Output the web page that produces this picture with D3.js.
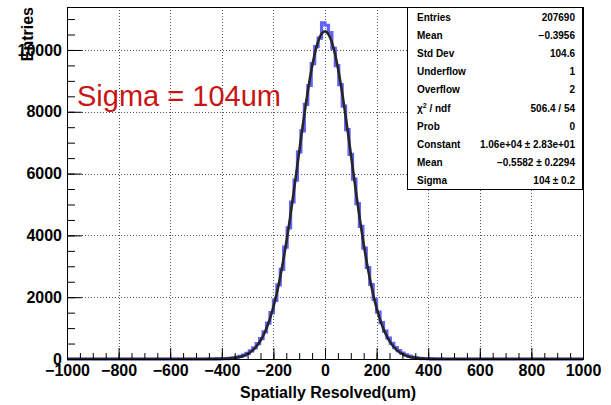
<!DOCTYPE html>
<html>

<head>
    <meta charset="utf-8">
    <script src="https://cdn.jsdelivr.net/npm/d3@7/dist/d3.min.js"></script>
    <style>
        body { margin: 0; background: #fff; }
        text { font-family: "Liberation Sans", Arial, Helvetica, sans-serif; }
    </style>
</head>

<body>
    <div id="my_dataviz"></div>
    <script>

        // histogram binning: 150 bins from -1000 to 1000
        var histLow = -1000, histHigh = 1000, nBins = 150;
        var binWidth = (histHigh - histLow) / nBins;
        // first non-empty bin index (bin 41 = [-453.3, -440])
        var firstBin = 41;
        // bin contents, from -446.7 up to +446.7
        var counts = [
            1, 2, 3, 5, 9, 14, 24, 38, 58, 88,
            128, 185, 262, 360, 495, 660, 880, 1160, 1500, 1900,
            2400, 2900, 3620, 4240, 5080, 5790, 6700, 7380, 8240, 8850,
            9560, 10110, 10380, 10880,
            10800, 10560, 10050, 9490, 8880, 8180, 7420, 6620, 5820, 5030,
            4290, 3590, 2960, 2410, 1930, 1520, 1180, 900, 680, 505,
            370, 268, 190, 132, 90, 60, 39, 25, 15, 9,
            5, 3, 2, 1
        ];

        // gaussian fit parameters (from the stats box)
        var fitConstant = 1.06e4, fitMean = -0.5582, fitSigma = 104;

        // stats box rows
        var statLabels = ["Entries", "Mean", "Std Dev", "Underflow", "Overflow", "chi2", "Prob", "Constant", "Mean", "Sigma"];
        var statValues = ["207690", "\u22120.3956", "104.6", "1", "2", "506.4 / 54", "0",
            "1.06e+04 \u00b1 2.83e+01", "\u22120.5582 \u00b1 0.2294", "104 \u00b1 0.2"];

        var xMajor = d3.range(-1000, 1001, 200);
        var xMinor = d3.range(-1000, 1001, 50);
        var yMajor = d3.range(0, 10001, 2000);
        var yMinor = d3.range(0, 11001, 500);

        var W = 611, H = 405;
        var frame = { left: 67, right: 583, top: 7, bottom: 359 };

        var svg = d3.select("#my_dataviz")
            .append("svg")
            .attr("width", W)
            .attr("height", H);

        var x = d3.scaleLinear().domain([histLow, histHigh]).range([frame.left, frame.right]);
        var y = d3.scaleLinear().domain([0, 11390]).range([frame.bottom, frame.top]);

        // grid
        var grid = svg.append("g")
            .attr("stroke", "#555")
            .attr("stroke-width", 1)
            .attr("stroke-dasharray", "1,2");
        grid.selectAll(".gx")
            .data(xMajor.filter(function (d) { return d > histLow && d < histHigh; }))
            .enter().append("line")
            .attr("x1", function (d) { return Math.round(x(d)) + 0.5; })
            .attr("x2", function (d) { return Math.round(x(d)) + 0.5; })
            .attr("y1", frame.top).attr("y2", frame.bottom);
        grid.selectAll(".gy")
            .data(yMajor.filter(function (d) { return d > 0; }))
            .enter().append("line")
            .attr("y1", function (d) { return Math.round(y(d)) + 0.5; })
            .attr("y2", function (d) { return Math.round(y(d)) + 0.5; })
            .attr("x1", frame.left).attr("x2", frame.right);

        // histogram outline as steps
        var pts = [];
        for (var i = 0; i < nBins; i++) {
            var c = (i >= firstBin && i < firstBin + counts.length) ? counts[i - firstBin] : 0;
            pts.push([histLow + i * binWidth, c]);
        }
        pts.push([histHigh, pts[pts.length - 1][1]]);

        var stepLine = d3.line()
            .x(function (d) { return x(d[0]); })
            .y(function (d) { return y(d[1]); })
            .curve(d3.curveStepAfter);

        svg.append("path")
            .datum(pts)
            .attr("fill", "none")
            .attr("stroke", "#6262ff")
            .attr("stroke-width", 3.2)
            .attr("d", stepLine);

        // fit curve
        var fitPts = d3.range(histLow, histHigh + 0.1, 2).map(function (v) {
            var z = (v - fitMean) / fitSigma;
            return [v, fitConstant * Math.exp(-0.5 * z * z)];
        });
        svg.append("path")
            .datum(fitPts)
            .attr("fill", "none")
            .attr("stroke", "#262626")
            .attr("stroke-width", 2.6)
            .attr("d", d3.line().x(function (d) { return x(d[0]); }).y(function (d) { return y(d[1]); }));

        // frame
        svg.append("rect")
            .attr("x", frame.left + 0.5).attr("y", frame.top + 0.5)
            .attr("width", frame.right - frame.left).attr("height", frame.bottom - frame.top)
            .attr("fill", "none").attr("stroke", "#000").attr("stroke-width", 1);

        var fmt = function (d) { return d < 0 ? "\u2212" + Math.abs(d) : "" + d; };

        // x axis
        var xAxis = svg.append("g")
            .attr("transform", "translate(0," + frame.bottom + ")")
            .call(d3.axisBottom(x).tickValues(xMajor).tickSize(-11).tickSizeOuter(0).tickPadding(6).tickFormat(fmt));
        xAxis.select(".domain").remove();
        xAxis.selectAll("text").style("font-size", "16px").style("font-weight", "bold").attr("fill", "#000");
        var xAxisMinor = svg.append("g")
            .attr("transform", "translate(0," + frame.bottom + ")")
            .call(d3.axisBottom(x).tickValues(xMinor).tickSize(-6).tickFormat(""));
        xAxisMinor.select(".domain").remove();

        // y axis
        var yAxis = svg.append("g")
            .attr("transform", "translate(" + frame.left + ",0)")
            .call(d3.axisLeft(y).tickValues(yMajor).tickSize(-15).tickSizeOuter(0).tickPadding(5).tickFormat(fmt));
        yAxis.select(".domain").remove();
        yAxis.selectAll("text").style("font-size", "16px").style("font-weight", "bold").attr("fill", "#000");
        var yAxisMinor = svg.append("g")
            .attr("transform", "translate(" + frame.left + ",0)")
            .call(d3.axisLeft(y).tickValues(yMinor).tickSize(-8).tickFormat(""));
        yAxisMinor.select(".domain").remove();

        // axis titles
        svg.append("text")
            .attr("x", (frame.left + frame.right) / 2 + 3)
            .attr("y", 398)
            .attr("text-anchor", "middle")
            .style("font-size", "16px").style("font-weight", "bold")
            .text("Spatially Resolved(um)");
        svg.append("text")
            .attr("transform", "translate(33," + frame.top + ") rotate(-90)")
            .attr("text-anchor", "end")
            .style("font-size", "16px").style("font-weight", "bold")
            .text("Entries");

        // annotation
        svg.append("text")
            .attr("x", 77).attr("y", 106)
            .attr("fill", "#c81414")
            .style("font-size", "29px")
            .text("Sigma = " + fitSigma + "um");

        // stats box
        var box = { x: 407, y: 7, w: 175, h: 182 };
        svg.append("rect")
            .attr("x", box.x + 0.5).attr("y", box.y + 0.5)
            .attr("width", box.w).attr("height", box.h)
            .attr("fill", "#fff").attr("stroke", "#000").attr("stroke-width", 1);

        var rowY = function (i) { return 20.5 + i * 18.2; };
        var labels = svg.append("g").style("font-size", "10px").style("font-weight", "bold");
        statLabels.forEach(function (l, i) {
            var t = labels.append("text").attr("x", 417).attr("y", rowY(i));
            if (l === "chi2") {
                t.append("tspan").text("\u03c7");
                t.append("tspan").attr("dy", -4).style("font-size", "7px").text("2");
                t.append("tspan").attr("dy", 4).text(" / ndf");
            } else {
                t.text(l);
            }
        });
        statValues.forEach(function (v, i) {
            labels.append("text").attr("x", 575).attr("y", rowY(i))
                .attr("text-anchor", "end").text(v);
        });

    </script>
</body>

</html>
